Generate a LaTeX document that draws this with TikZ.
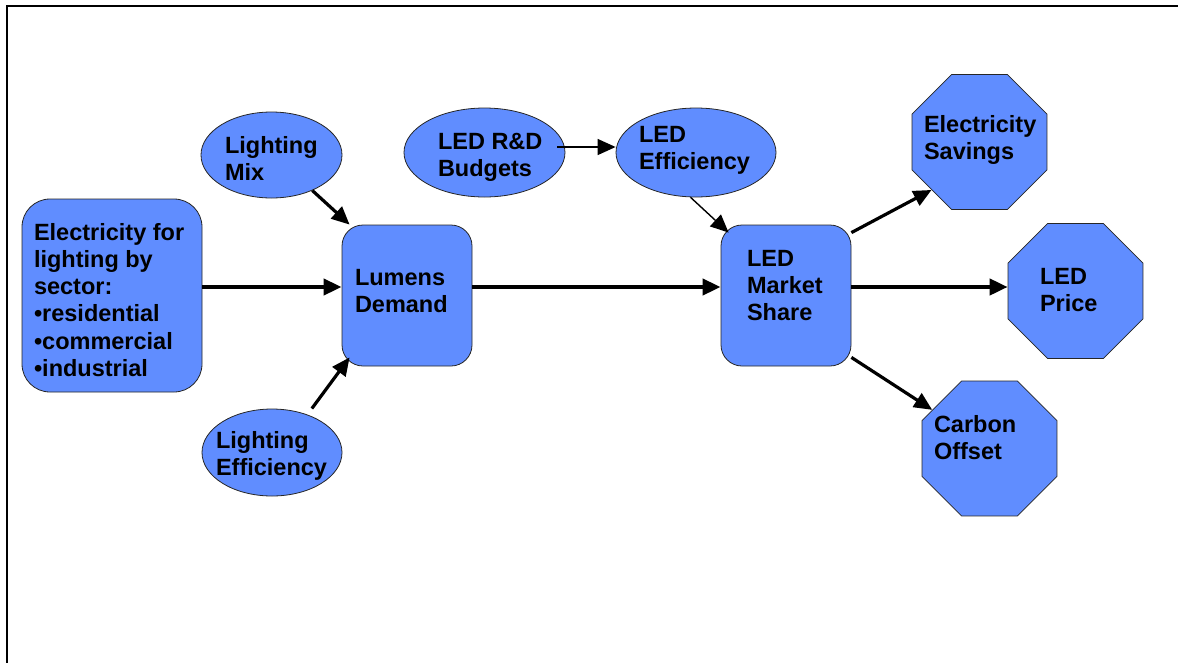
\documentclass[tikz,border=0pt]{standalone}
\usepackage{fontspec}
\setmainfont{Liberation Sans}
\usetikzlibrary{shapes.geometric,arrows.meta}
\definecolor{nodeblue}{RGB}{96,141,255}
% text block placed at an offset from the node centre (left edge, first baseline)
\newcommand\inset[3]{\smash{\rlap{\hspace*{#1}\raisebox{#2}{\begin{tabular}[t]{@{}l@{}}#3\end{tabular}}}}}
\begin{document}
\begin{tikzpicture}[x=1pt, y=-1pt,
  box/.style={draw=black!85, line width=0.8pt, fill=nodeblue, inner sep=0pt,
    font=\bfseries\fontsize{23.5}{27.3}\selectfont},
  rbox/.style={box, rectangle, rounded corners=21pt},
  oval/.style={box, ellipse},
  octagon/.style={box, regular polygon, regular polygon sides=8, minimum size=146pt},
  mainarrow/.style={line width=4pt, -{Triangle[length=18pt,width=16pt]}},
  diagarrow/.style={line width=3.2pt, -{Triangle[length=18pt,width=16pt]}},
  thinarrow/.style={line width=1.4pt, -{Triangle[length=18pt,width=16pt]}}]
\useasboundingbox (0,0) rectangle (1178,662);
% frame
\draw[line width=2.5pt] (7,664) -- (7,6) -- (1180,6);

% nodes
\node[rbox, rounded corners=28pt, minimum width=180pt, minimum height=193pt] (elec) at (112,295.5)
  {\inset{-78pt}{55.5pt}{Electricity for\\lighting by\\sector:\\\textbullet residential\\\textbullet commercial\\\textbullet industrial}};
\node[rbox, minimum width=130pt, minimum height=141pt] (lumens) at (407,295.5)
  {\inset{-52pt}{10.5pt}{Lumens\\Demand}};
\node[rbox, minimum width=130pt, minimum height=141pt] (share) at (786,295.5)
  {\inset{-39pt}{29.5pt}{LED\\Market\\Share}};
\node[oval, minimum width=141pt, minimum height=86pt] (mix) at (271.5,155)
  {\inset{-46.5pt}{2pt}{Lighting\\Mix}};
\node[oval, minimum width=140pt, minimum height=87pt] (lmeff) at (272,452.5)
  {\inset{-56pt}{4.5pt}{Lighting\\Efficiency}};
\node[oval, minimum width=161pt, minimum height=89pt] (rd) at (484.5,152.5)
  {\inset{-46.5pt}{3.5pt}{LED R\&D\\Budgets}};
\node[oval, minimum width=160pt, minimum height=89pt] (ledeff) at (696,152.5)
  {\inset{-57pt}{10.5pt}{LED\\Efficiency}};
\node[octagon] (savings) at (979.5,142)
  {\inset{-55.5pt}{10pt}{Electricity\\Savings}};
\node[octagon] (price) at (1075.5,291)
  {\inset{-35.5pt}{7pt}{LED\\Price}};
\node[octagon] (carbon) at (989.5,448.5)
  {\inset{-55.5pt}{16.5pt}{Carbon\\Offset}};

% connectors
\draw[mainarrow] ([yshift=8.5pt]elec.east) -- ([yshift=8.5pt]lumens.west);
\draw[mainarrow] ([yshift=8.5pt]lumens.east) -- ([yshift=8.5pt]share.west);
\draw[mainarrow] ([yshift=8.5pt]share.east) -- ([yshift=4pt]price.west);
\draw[diagarrow] (mix.-41) -- ([xshift=8pt]lumens.north west);
\draw[diagarrow, shorten <=7.5pt] (lmeff.47) -- ([shift={(8pt,9pt)}]lumens.south west);
\draw[thinarrow] ([shift={(-8pt,5.5pt)}]rd.east) -- ([yshift=5.5pt]ledeff.west);
\draw[thinarrow] (ledeff.-97) -- ([shift={(8pt,-8pt)}]share.north west);
\draw[diagarrow] ([yshift=-8pt]share.north east) -- (savings.-135);
\draw[diagarrow] ([yshift=9pt]share.south east) -- (carbon.146);
\end{tikzpicture}
\end{document}
